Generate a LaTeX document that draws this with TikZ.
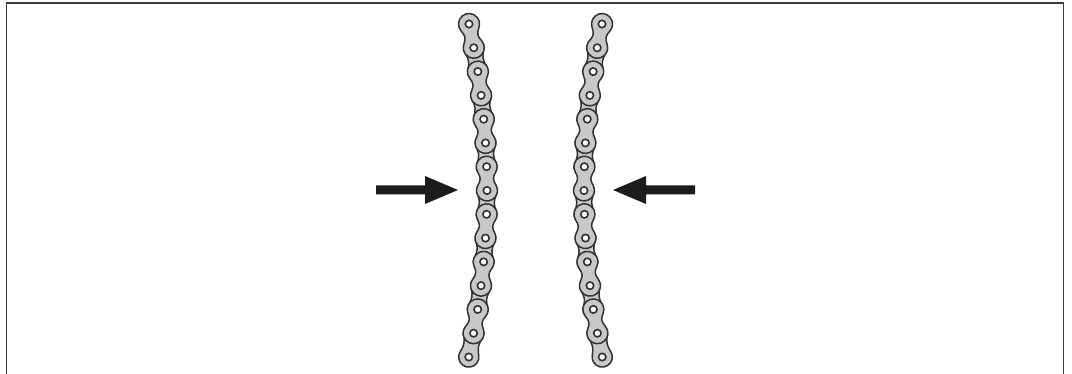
\documentclass[tikz,border=0pt]{standalone}
\usetikzlibrary{calc}
\definecolor{platefill}{RGB}{200,200,200}
\definecolor{plateline}{RGB}{50,50,50}
\definecolor{framecol}{RGB}{60,60,60}
\definecolor{arrowcol}{RGB}{28,28,28}
\tikzset{
  frameline/.style={draw=framecol,line width=1.6pt},
  outerplate/.style={fill=platefill,draw=plateline,line width=1.5pt,line join=round},
  innerplate/.style={fill=platefill,draw=plateline,line width=1.5pt,line join=round},
  pinhole/.style={fill=white,draw=plateline,line width=1.6pt},
  pusharrow/.style={fill=arrowcol},
}
% peanut shaped plate: #1 half length, #2 radius, #3 angle a, #4 control length
\newcommand{\peanutpath}[4]{%
  ({#2*cos(#3)},{#1-#2*sin(#3)})
  arc[start angle=-#3,end angle=180+#3,radius=#2]
  .. controls +({#4*sin(#3)},{-#4*cos(#3)}) and ({-#2*cos(#3)+#4*sin(#3)},{-#1+#2*sin(#3)+#4*cos(#3)}) ..
  ({-#2*cos(#3)},{-#1+#2*sin(#3)})
  arc[start angle=180-#3,end angle=360+#3,radius=#2]
  .. controls +({-#4*sin(#3)},{#4*cos(#3)}) and ({#2*cos(#3)-#4*sin(#3)},{#1-#2*sin(#3)-#4*cos(#3)}) ..
  cycle}
% #1 chain centre x, #2 sign of bow, #3 plate parity (1 inner, 0 outer), #4 style, #5 R, #6 a, #7 k
\newcommand{\chainplates}[7]{%
  \foreach \i in {0,...,13}{%
    \pgfmathtruncatemacro\plparity{mod(\i,2)}%
    \ifnum\plparity=#3\relax
      \pgfmathsetmacro\plya{24+23.786*\i}%
      \pgfmathsetmacro\plyb{24+23.786*(\i+1)}%
      \pgfmathsetmacro\plxa{#1+#2*(0.025554*(\plya-190))^2}%
      \pgfmathsetmacro\plxb{#1+#2*(0.025554*(\plyb-190))^2}%
      \pgfmathsetmacro\plmx{(\plxa+\plxb)/2}%
      \pgfmathsetmacro\plmy{(\plya+\plyb)/2}%
      \pgfmathsetmacro\plhalf{0.5*veclen(\plxb-\plxa,\plyb-\plya)}%
      \pgfmathsetmacro\plang{atan2(\plxb-\plxa,\plyb-\plya)}%
      \begin{scope}[shift={(\plmx,\plmy)},rotate=\plang]
        \path[#4] \peanutpath{\plhalf}{#5}{#6}{#7};
      \end{scope}
    \fi
  }%
}
\newcommand{\chainholes}[2]{%
  \foreach \i in {0,...,14}{%
    \pgfmathsetmacro\plya{24+23.786*\i}%
    \pgfmathsetmacro\plxa{#1+#2*(0.025554*(\plya-190))^2}%
    \path[pinhole] (\plxa,\plya) circle[radius=3.7];
  }%
}
\begin{document}
\begin{tikzpicture}[x=1pt,y=-1pt]
\useasboundingbox (0,0) rectangle (1072,374);
% frame
\coordinate (fbl) at (6.5,374);
\coordinate (ftl) at (6.5,3.3);
\coordinate (ftr) at (1063.5,3.3);
\coordinate (fbr) at (1063.5,374);
\draw[frameline] (fbl) -- (ftl) -- (ftr) -- (fbr);
% left chain
\chainplates{487}{-1}{1}{innerplate}{10.1}{20}{8.0}
\chainplates{487}{-1}{0}{outerplate}{10.5}{30}{6.6}
\chainholes{487}{-1}
% right chain
\chainplates{584}{1}{1}{innerplate}{10.1}{20}{8.0}
\chainplates{584}{1}{0}{outerplate}{10.5}{30}{6.6}
\chainholes{584}{1}
% arrows
\coordinate (lt) at (376,190);
\coordinate (lh) at (458,190);
\fill[pusharrow] ($(lt)+(0,-4.5)$) -- ($(lh)+(-33,-4.5)$) -- ($(lh)+(-33,-14)$) -- (lh)
  -- ($(lh)+(-33,14)$) -- ($(lh)+(-33,4.5)$) -- ($(lt)+(0,4.5)$) -- cycle;
\coordinate (rt) at (695,190);
\coordinate (rh) at (613,190);
\fill[pusharrow] ($(rt)+(0,-4.5)$) -- ($(rh)+(33,-4.5)$) -- ($(rh)+(33,-14)$) -- (rh)
  -- ($(rh)+(33,14)$) -- ($(rh)+(33,4.5)$) -- ($(rt)+(0,4.5)$) -- cycle;
\end{tikzpicture}
\end{document}
